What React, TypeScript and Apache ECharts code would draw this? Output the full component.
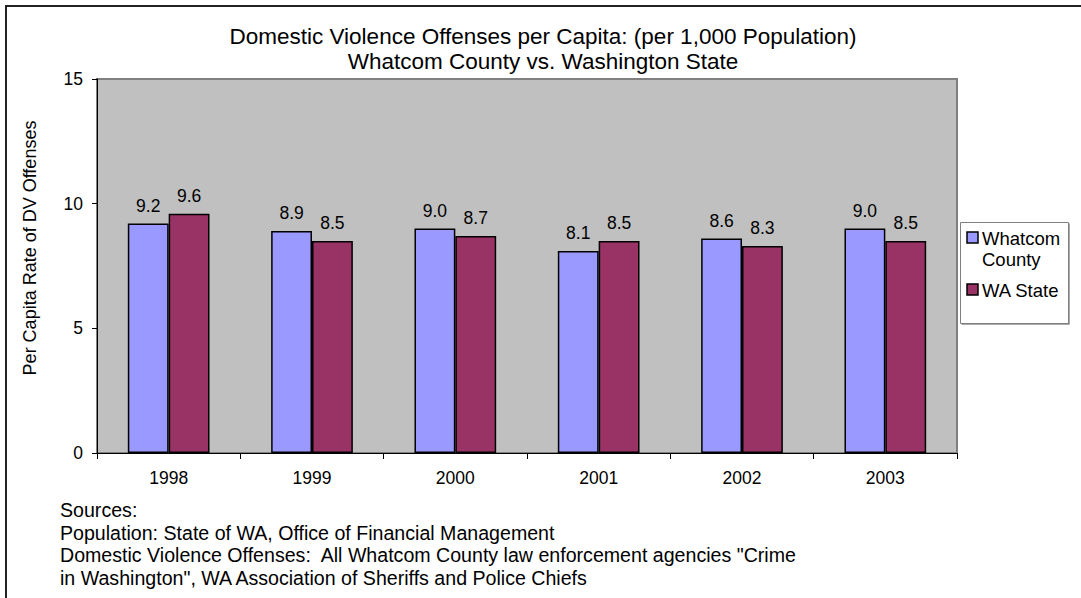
import React, { useEffect, useRef } from "react";
import * as echarts from "echarts";

const categories = ["1998", "1999", "2000", "2001", "2002", "2003"];
const whatcomValues = [9.2, 8.9, 9.0, 8.1, 8.6, 9.0];
const waStateValues = [9.6, 8.5, 8.7, 8.5, 8.3, 8.5];
const seriesNames = ["Whatcom\nCounty", "WA State"];
const seriesColors = ["#9999FF", "#993366"];
const titleLines = [
  "Domestic Violence Offenses per Capita: (per 1,000 Population)",
  "Whatcom County vs. Washington State",
];
const yAxisName = "Per Capita Rate of DV Offenses";
const sourceLines = [
  "Sources:",
  "Population: State of WA, Office of Financial Management",
  'Domestic Violence Offenses:  All Whatcom County law enforcement agencies "Crime',
  'in Washington", WA Association of Sheriffs and Police Chiefs',
];

const FONT = "'Liberation Sans', Arial, sans-serif";

export default function App() {
  const ref = useRef<HTMLDivElement>(null);
  useEffect(() => {
    if (!ref.current) return;
    const chart = echarts.init(ref.current, undefined, { renderer: "svg" });
    const values = [whatcomValues, waStateValues];
    const legendItems: any[] = [];
    const legendTops = [232, 284];
    seriesNames.forEach((n, i) => {
      legendItems.push({
        type: "rect",
        shape: { x: 967, y: legendTops[i], width: 11, height: 11 },
        style: { fill: seriesColors[i], stroke: "#000", lineWidth: 1.5 },
      });
      legendItems.push({
        type: "text",
        x: 982,
        y: legendTops[i] - 4,
        style: {
          text: n,
          font: `18.5px ${FONT}`,
          fill: "#000",
          lineHeight: 21,
          verticalAlign: "top",
          align: "left",
        },
      });
    });
    chart.setOption({
      animation: false,
      textStyle: { fontFamily: FONT },
      title: {
        text: titleLines.join("\n"),
        left: 538,
        top: 19,
        textAlign: "center",
        textStyle: {
          fontFamily: FONT,
          fontSize: 22.5,
          fontWeight: "normal",
          color: "#000",
          lineHeight: 25,
        },
      },
      grid: {
        left: 97,
        top: 79,
        width: 860,
        height: 374,
        show: true,
        backgroundColor: "#C0C0C0",
        borderColor: "#808080",
        borderWidth: 2,
      },
      xAxis: {
        type: "category",
        data: categories,
        axisLine: { lineStyle: { color: "#000", width: 1 } },
        axisTick: { show: true, length: 6, lineStyle: { color: "#000" } },
        axisLabel: { color: "#000", fontSize: 17.5, margin: 16, fontFamily: FONT },
      },
      yAxis: {
        type: "value",
        min: 0,
        max: 15,
        interval: 5,
        axisLine: { show: true, lineStyle: { color: "#000", width: 1 } },
        axisTick: { show: true, length: 5, lineStyle: { color: "#000" } },
        axisLabel: { color: "#000", fontSize: 17.5, margin: 14, fontFamily: FONT },
        splitLine: { show: false },
      },
      series: seriesNames.map((n, i) => ({
        type: "bar",
        name: n,
        data: values[i],
        barGap: "0%",
        barCategoryGap: "43%",
        itemStyle: { color: seriesColors[i], borderColor: "#000", borderWidth: 1.5 },
        label: {
          show: true,
          position: "top",
          distance: 9,
          color: "#000",
          fontSize: 17.5,
          fontFamily: FONT,
          formatter: (p: any) => Number(p.value).toFixed(1),
        },
      })),
      graphic: [
        {
          type: "rect",
          shape: { x: 6, y: 6, width: 1300, height: 800 },
          style: { fill: "none", stroke: "#222", lineWidth: 2 },
          silent: true,
        },
        {
          type: "text",
          x: 30,
          y: 248,
          rotation: Math.PI / 2,
          style: {
            text: yAxisName,
            font: `18px ${FONT}`,
            fill: "#000",
            align: "center",
            verticalAlign: "middle",
          },
        },
        {
          type: "text",
          x: 60,
          y: 499,
          style: {
            text: sourceLines.join("\n"),
            font: `19.6px ${FONT}`,
            fill: "#000",
            lineHeight: 22.5,
            align: "left",
            verticalAlign: "top",
          },
        },
        {
          type: "rect",
          shape: { x: 961.5, y: 223.5, width: 108, height: 101 },
          style: { fill: "#555", stroke: "none" },
        },
        {
          type: "rect",
          shape: { x: 960.5, y: 222.5, width: 108, height: 101 },
          style: { fill: "#fff", stroke: "#808080", lineWidth: 1 },
        },
        ...legendItems,
      ],
    });
    return () => chart.dispose();
  }, []);
  return (
    <div
      ref={ref}
      style={{ position: "fixed", left: 0, top: 0, width: 1081, height: 598, background: "#fff" }}
    />
  );
}
